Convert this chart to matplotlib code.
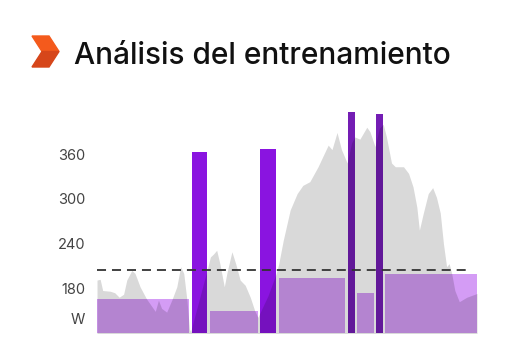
import matplotlib.pyplot as plt
from matplotlib.patches import Polygon

plt.rcParams['font.family'] = ['Inter', 'DejaVu Sans']

# power profile (minutes, watts)
time_min = [0, 0.5, 0.9, 2.1, 2.8, 3.5, 4.2, 4.7, 5.5, 6.0, 6.8, 7.8, 9.2, 9.7,
            10.2, 11.0, 11.8, 12.6, 13.2, 13.7, 14.2, 14.6, 14.8, 17.4, 17.9,
            18.4, 18.9, 19.4, 20.1, 20.5, 21.3, 21.9, 22.6, 23.4, 24.2, 24.9,
            25.4, 27.0, 28.3, 28.7, 29.4, 30.5, 31.6, 32.5, 33.6, 34.9, 36.5,
            37.1, 37.9, 38.6, 39.5, 40.2, 40.7, 41.5, 42.6, 43.1, 43.9, 44.6,
            45.2, 45.7, 46.5, 47.1, 48.4, 49.2, 49.9, 50.5, 50.9, 51.5, 52.3,
            53.0, 53.6, 54.2, 54.7, 55.2, 55.6, 56.0, 56.5, 57.2, 58.4, 60.0]
power_w = [191, 192, 177, 176, 174, 168, 172, 191, 204, 200, 182, 166, 149, 164,
           153, 148, 164, 182, 209, 200, 164, 125, 122, 205, 222,
           226, 231, 213, 182, 200, 229, 213, 191, 184, 168, 150,
           141, 170, 200, 213, 244, 285, 307, 318, 323, 343, 372,
           366, 389, 366, 348, 375, 383, 380, 396, 390, 370, 395,
           400, 383, 348, 343, 343, 334, 316, 289, 258, 280, 307,
           315, 302, 281, 240, 209, 213, 200, 177, 162, 168, 173]

# workout intervals
interval_start = [0.0, 15.0, 17.8, 25.7, 28.7, 39.6, 41.1, 44.1, 45.5]
interval_end = [14.5, 17.4, 25.4, 28.3, 39.2, 40.7, 43.7, 45.2, 60.0]
interval_target = [165, 363, 150, 367, 194, 417, 174, 414, 199]
interval_kind = ['easy', 'hard', 'easy', 'hard', 'easy', 'max', 'easy', 'max', 'easy']

ftp = 204

colors = {'easy': '#d49cf5', 'hard': '#8a14e0', 'max': '#741db4'}

fig = plt.figure(figsize=(5.12, 3.56), dpi=100)
ax = fig.add_axes([97 / 512, 1 - 333 / 356, 380 / 512, (333 - 105.6) / 356])

widths = [e - s for s, e in zip(interval_start, interval_end)]
ax.bar(interval_start, interval_target, width=widths, align='edge',
       color=[colors[k] for k in interval_kind], zorder=1)

# grey power area laid over the bars (darkens like multiply)
ax.fill_between(time_min, 0, power_w, color='black', alpha=0.15, lw=0, zorder=2)

ax.hlines(ftp, 0, 58.6, colors='#333333', linestyles=(0, (5, 3.3)), lw=1.3, zorder=3)

ax.set_xlim(0, 60)
ax.set_ylim(120, 425)
ax.set_yticks([140, 180, 240, 300, 360])
ax.set_yticklabels(['W', '180', '240', '300', '360'])
ax.tick_params(axis='y', length=0, pad=8.5, labelsize=10.5, labelcolor='#444444')
ax.set_xticks([])
for s in ax.spines.values():
    s.set_visible(False)

# title with chevron icon
def px(x, y):
    return (x / 512, 1 - y / 356)

fig.patches.append(Polygon([px(32, 36), px(49, 36), px(59, 51.5), px(42, 51.5)],
                           closed=True, color='#f45a1c', transform=fig.transFigure))
fig.patches.append(Polygon([px(42, 51.5), px(59, 51.5), px(49, 67), px(32, 67)],
                           closed=True, color='#d6461a', transform=fig.transFigure))
fig.text(74 / 512, 1 - 63.5 / 356, 'Análisis del entrenamiento', fontsize=21.5,
         fontweight=500, color='#111111', ha='left', va='baseline')

fig.savefig('out.png', dpi=100)
